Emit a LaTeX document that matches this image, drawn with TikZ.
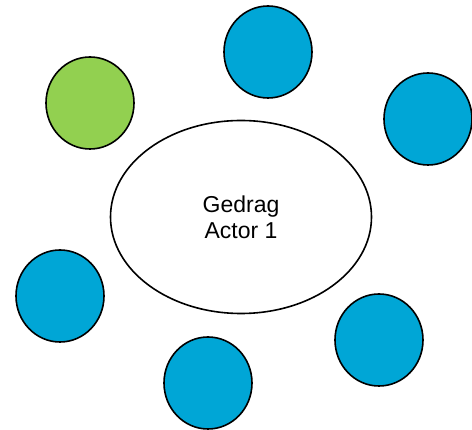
\documentclass[tikz,border=0pt]{standalone}
\usepackage{fontspec}
\setmainfont{Liberation Sans}
\usepackage{xcolor}
\usepackage{tikz}
\usetikzlibrary{shapes.geometric}
\definecolor{actorblue}{RGB}{0,166,214}
\definecolor{actorgreen}{RGB}{146,208,80}
\tikzset{
  actor/.style={draw, ellipse, line width=1.6pt, minimum width=88pt,
                minimum height=92pt, inner sep=0pt},
  other/.style={actor, fill=actorblue},
  self/.style={actor, fill=actorgreen},
  gedrag/.style={draw, ellipse, line width=1.6pt, minimum width=261pt,
                 minimum height=193pt, align=center,
                 font=\fontsize{23}{26}\selectfont},
}

\begin{document}
\begin{tikzpicture}[x=1pt, y=-1pt]
  \useasboundingbox (0,0) rectangle (472,430);
  % central behaviour ellipse
  \node[gedrag] (gedrag) at (241,217) {Gedrag\\Actor 1};
  % surrounding actors
  \node[self] (a0) at (90,103) {};
  \foreach \i/\x/\y in {1/268/52, 2/428/119, 3/379/340, 4/208/383, 5/60/296}{
    \node[other] (a\i) at (\x,\y) {};
  }
\end{tikzpicture}
\end{document}
